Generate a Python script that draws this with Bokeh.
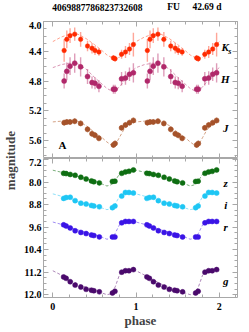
import math
from bokeh.plotting import figure
from bokeh.layouts import row, column
from bokeh.models import Range1d, FixedTicker, LinearAxis, Label, ColumnDataSource
from bokeh.embed import file_html
from bokeh.resources import INLINE

# ---------------- data ----------------
title_id = "4069887786823732608"
title_type = "FU"
title_period = "42.69 d"
panel_tag = "A"

phase_ir = [0.136, 0.168, 0.207, 0.263, 0.334, 0.417, 0.471, 0.507, 0.554, 0.728, 0.748, 0.826, 0.873, 0.921, 0.968]
ks_mag = [4.39, 4.24, 4.19, 4.17, 4.24, 4.33, 4.36, 4.39, 4.41, 4.49, 4.50, 4.44, 4.41, 4.37, 4.31]
ks_err = [0.15, 0.12, 0.10, 0.09, 0.10, 0.07, 0.07, 0.06, 0.05, 0.04, 0.04, 0.06, 0.08, 0.08, 0.16]
h_mag = [4.80, 4.67, 4.60, 4.56, 4.61, 4.74, 4.82, 4.83, 4.87, 4.91, 4.91, 4.77, 4.76, 4.71, 4.69]
h_err = [0.10, 0.12, 0.12, 0.13, 0.13, 0.10, 0.08, 0.08, 0.08, 0.06, 0.06, 0.09, 0.09, 0.09, 0.13]
j_mag = [5.36, 5.35, 5.35, 5.34, 5.37, 5.45, 5.51, 5.53, 5.57, 5.66, 5.64, 5.43, 5.39, 5.36, 5.33]
j_err = [0.04, 0.04, 0.04, 0.04, 0.04, 0.04, 0.04, 0.04, 0.04, 0.04, 0.04, 0.04, 0.04, 0.04, 0.04]

phase_opt = [0.130, 0.160, 0.209, 0.268, 0.337, 0.400, 0.464, 0.493, 0.559, 0.716, 0.746, 0.828, 0.872, 0.915, 0.968]
z_mag = [7.69, 7.70, 7.73, 7.76, 7.83, 7.89, 7.96, 7.99, 8.03, 7.98, 7.97, 7.69, 7.64, 7.62, 7.57]
i_mag = [8.58, 8.55, 8.54, 8.66, 8.75, 8.78, 8.83, 8.85, 8.88, 8.91, 8.85, 8.50, 8.37, 8.37, 8.39]
r_mag = [9.52, 9.56, 9.63, 9.73, 9.79, 9.83, 9.88, 9.90, 9.95, 9.95, 9.95, 9.45, 9.40, 9.40, 9.40]
g_mag = [11.37, 11.42, 11.54, 11.66, 11.73, 11.81, 11.84, 11.86, 11.90, 11.94, 11.88, 11.20, 11.15, 11.15, 11.11]

model_phase = [0.0, 0.1, 0.2, 0.3, 0.4, 0.5, 0.6, 0.65, 0.7, 0.75, 0.8, 0.85, 0.9, 0.95, 1.0]
ks_model = [4.27, 4.21, 4.17, 4.17, 4.23, 4.31, 4.40, 4.45, 4.48, 4.50, 4.48, 4.44, 4.39, 4.33, 4.27]
h_model = [4.62, 4.58, 4.56, 4.57, 4.64, 4.75, 4.85, 4.90, 4.93, 4.93, 4.88, 4.81, 4.74, 4.67, 4.62]
j_model = [5.35, 5.34, 5.33, 5.34, 5.40, 5.49, 5.57, 5.62, 5.66, 5.66, 5.56, 5.46, 5.40, 5.36, 5.35]
z_model = [7.58, 7.65, 7.72, 7.80, 7.88, 7.96, 8.08, 8.14, 8.10, 7.95, 7.72, 7.62, 7.57, 7.56, 7.58]
i_model = [8.42, 8.50, 8.60, 8.70, 8.77, 8.84, 8.93, 8.98, 8.95, 8.78, 8.52, 8.40, 8.37, 8.37, 8.42]
r_model = [9.42, 9.50, 9.60, 9.70, 9.78, 9.86, 9.97, 10.03, 10.00, 9.82, 9.52, 9.42, 9.40, 9.40, 9.42]
g_model = [11.15, 11.30, 11.47, 11.62, 11.73, 11.83, 11.95, 12.00, 11.97, 11.72, 11.30, 11.15, 11.12, 11.11, 11.15]

x_ticks = [0, 1, 2]
x_minor = [round(k * 0.2, 2) for k in range(-1, 12)]
top_ticks = [4.0, 4.4, 4.8, 5.2, 5.6]
top_minor = [round(3.9 + 0.1 * k, 2) for k in range(0, 21)]
bot_ticks = [7.2, 8.0, 8.8, 9.6, 10.4, 11.2, 12.0]
bot_minor = [round(7.0 + 0.2 * k, 2) for k in range(0, 27)]

# ---------------- style ----------------
SERIF = "Liberation Serif"
FRAME = "#a8a8a8"
XR = (-0.112, 2.219)

def add_axis(p, side, ticks, minor, labels):
    ax = LinearAxis(ticker=FixedTicker(ticks=ticks, minor_ticks=minor))
    ax.axis_line_color = None
    ax.major_tick_in = 5
    ax.major_tick_out = 0
    ax.minor_tick_in = 3
    ax.minor_tick_out = 0
    ax.major_tick_line_color = FRAME
    ax.minor_tick_line_color = FRAME
    if labels:
        ax.major_label_text_font = SERIF
        ax.major_label_text_font_style = "bold"
        ax.major_label_text_font_size = "10px"
        ax.major_label_text_color = "black"
        ax.major_label_standoff = 2
        if side == "below":
            ax.major_label_overrides = {t: "%d" % t for t in ticks}
        else:
            ax.major_label_overrides = {t: "%.1f" % t for t in ticks}
    else:
        ax.major_label_text_font_size = "0px"
        ax.major_label_standoff = 0
        ax.major_label_overrides = {t: "" for t in ticks}
    p.add_layout(ax, side)
    return ax

def make_fig(h, yr, top_b, bot_b):
    p = figure(width=225, height=h, x_range=Range1d(*XR), y_range=Range1d(*yr),
               output_backend="svg", toolbar_location=None,
               x_axis_location=None, y_axis_location=None,
               min_border_left=20, min_border_right=8,
               min_border_top=top_b, min_border_bottom=bot_b)
    p.outline_line_color = FRAME
    p.outline_line_width = 1
    p.background_fill_color = "white"
    p.border_fill_color = "white"
    return p

def band(p, ph, mag, err, model, color, ecolor, lcolor, size):
    xs = list(ph) + [v + 1 for v in ph]
    ys = list(mag) + list(mag)
    mx = list(model_phase) + [v + 1 for v in model_phase[1:]]
    my = list(model) + list(model[1:])
    p.line(mx, my, line_color=lcolor, line_width=1, line_dash="3 2", line_alpha=0.8)
    if err is not None:
        es = list(err) + list(err)
        src = ColumnDataSource(dict(x=xs, lo=[a - b for a, b in zip(ys, es)], hi=[a + b for a, b in zip(ys, es)]))
        p.segment(x0="x", x1="x", y0="lo", y1="hi", source=src, line_color=ecolor, line_width=1.4, line_alpha=0.6)
    p.scatter(xs, ys, marker="circle", size=size, fill_color=color, line_color=color, line_width=0.5)

def text(p, x, y, t, size, style, align="center"):
    p.add_layout(Label(x=x, y=y, text=t, text_font=SERIF, text_font_size=size,
                       text_font_style=style, text_align=align, text_baseline="middle",
                       text_color="black"))

# ---------------- title strip ----------------
tf = figure(width=225, height=21, x_range=Range1d(*XR), y_range=Range1d(0, 1),
            output_backend="svg", toolbar_location=None,
            x_axis_location=None, y_axis_location=None,
            min_border_left=20, min_border_right=8, min_border_top=0, min_border_bottom=0)
tf.outline_line_color = None
text(tf, -0.008, 0.667, title_id, "9.5px", "bold", "left")
text(tf, 1.375, 0.667, title_type, "9.5px", "bold", "left")
text(tf, 1.678, 0.667, title_period, "9.5px", "bold", "left")

# ---------------- top panel ----------------
top = make_fig(137, (5.842, 4.0), 0, 0)
add_axis(top, "left", top_ticks, top_minor, True)
add_axis(top, "right", top_ticks, top_minor, False)
add_axis(top, "above", x_ticks, x_minor, False)
add_axis(top, "below", x_ticks, x_minor, False)

band(top, phase_ir, ks_mag, ks_err, ks_model, "#ff2a00", "#ff6a55", "#ff8a70", 4.5)
band(top, phase_ir, h_mag, h_err, h_model, "#b0286a", "#c85a8a", "#d07aa0", 5)
band(top, phase_ir, j_mag, j_err, j_model, "#a5522a", "#c07a55", "#c88a65", 5)

text(top, 2.071, 4.349, "K", "11px", "bold italic")
text(top, 2.128, 4.405, "s", "8px", "bold italic")
text(top, 2.071, 4.77, "H", "11px", "bold italic")
text(top, 2.077, 5.438, "J", "11px", "bold italic")
text(top, 0.116, 5.667, panel_tag, "11px", "bold")

# ---------------- bottom panel ----------------
bot = make_fig(172, (12.1, 7.164), 0, 33)
add_axis(bot, "left", bot_ticks, bot_minor, True)
add_axis(bot, "right", bot_ticks, bot_minor, False)
add_axis(bot, "above", x_ticks, x_minor, False)
xb = add_axis(bot, "below", x_ticks, x_minor, True)
xb.major_label_standoff = 5
xb.axis_label = "phase"
xb.axis_label_text_font = SERIF
xb.axis_label_text_font_style = "bold"
xb.axis_label_text_font_size = "13px"
xb.axis_label_standoff = 0

band(bot, phase_opt, z_mag, None, z_model, "#0e6e12", None, "#5a9a5a", 5)
band(bot, phase_opt, i_mag, None, i_model, "#1ec6f4", None, "#70d8f8", 5)
band(bot, phase_opt, r_mag, None, r_model, "#3a14e6", None, "#8a70f0", 5)
band(bot, phase_opt, g_mag, None, g_model, "#4a0a6c", None, "#9a6aa8", 5)

text(bot, 2.077, 8.018, "z", "11px", "bold italic")
text(bot, 2.077, 8.80, "i", "11px", "bold italic")
text(bot, 2.077, 9.584, "r", "11px", "bold italic")
text(bot, 2.077, 11.506, "g", "11px", "bold italic")

# ---------------- y label ----------------
mf = figure(width=20, height=330, x_range=Range1d(0, 1), y_range=Range1d(0, 1),
            output_backend="svg", toolbar_location=None,
            x_axis_location=None, y_axis_location=None, min_border=0)
mf.outline_line_color = None
mf.add_layout(Label(x=0.5, y=0.515, text="magnitude", angle=math.pi / 2,
                    text_font=SERIF, text_font_size="13px", text_font_style="bold",
                    text_align="center", text_baseline="middle"))

for p in (tf, top, bot, mf):
    p.xgrid.visible = False
    p.ygrid.visible = False

layout = row(mf, column(tf, top, bot))
open("out.html", "w").write(file_html(layout, INLINE))
